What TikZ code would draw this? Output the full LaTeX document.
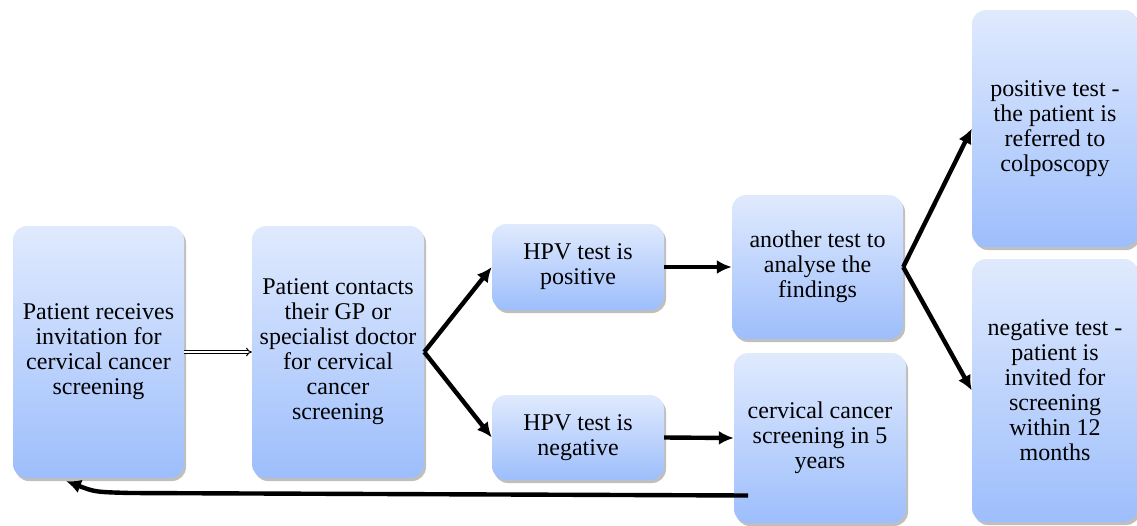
\documentclass[tikz,border=0pt]{standalone}
\usepackage{fontspec}
\setmainfont{Liberation Serif}
\usetikzlibrary{arrows.meta,shadows}
\definecolor{boxtop}{HTML}{E0EAFD}
\definecolor{boxbot}{HTML}{9DBEFC}
\tikzset{
  box/.style={rounded corners=14pt, top color=boxtop, bottom color=boxbot, draw=none,
    align=center, inner sep=2pt, font=\fontsize{24}{25}\selectfont,
    drop shadow={shadow xshift=2pt, shadow yshift=-3pt, opacity=0.25, fill=black}},
  flow/.style={line width=4.4pt, -{Latex[length=15pt,width=14pt]}},
  dbl/.style={double, double distance=1.8pt, line width=1pt, -{Implies[length=5pt,width=7pt]}}
}
\begin{document}
\begin{tikzpicture}[x=1pt,y=-1pt]
\useasboundingbox (0,0) rectangle (1137,525);
\node[box, minimum width=171pt, minimum height=252pt] (b1) at (98.5,352) {Patient receives\\invitation for\\cervical cancer\\screening};
\node[box, minimum width=172pt, minimum height=252pt] (b2) at (338,352) {Patient contacts\\their GP or\\specialist doctor\\for cervical\\cancer\\screening};
\node[box, minimum width=172pt, minimum height=86pt] (b3) at (578,267) {HPV test is\\positive};
\node[box, minimum width=172pt, minimum height=85pt] (b4) at (578,437.5) {HPV test is\\negative};
\node[box, minimum width=171pt, minimum height=144pt] (b5) at (817.5,267) {another test to\\analyse the\\findings};
\node[box, minimum width=172pt, minimum height=170pt] (b6) at (820,438) {cervical cancer\\screening in 5\\years};
\node[box, minimum width=166pt, minimum height=237pt] (b7) at (1055,128.5) {positive test -\\the patient is\\referred to\\colposcopy};
\node[box, minimum width=166pt, minimum height=263pt] (b8) at (1055,390.5) {negative test -\\patient is\\invited for\\screening\\within 12\\months};
\draw[dbl] (b1.east) -- (b2.west);
\draw[flow] (b2.east) -- (b3.west);
\draw[flow] (b2.east) -- (b4.west);
\draw[flow] (b3.east) -- (b5.west);
\draw[flow] (b4.east) -- (b6.west);
\draw[flow] (b5.east) -- (b7.west);
\draw[flow] (b5.east) -- (b8.west);
\coordinate (rs) at (748,495.5);
\coordinate (rt) at (66,481);
\draw[flow] (rs) -- (130,493) .. controls (95,492) .. (rt);
\end{tikzpicture}
\end{document}
